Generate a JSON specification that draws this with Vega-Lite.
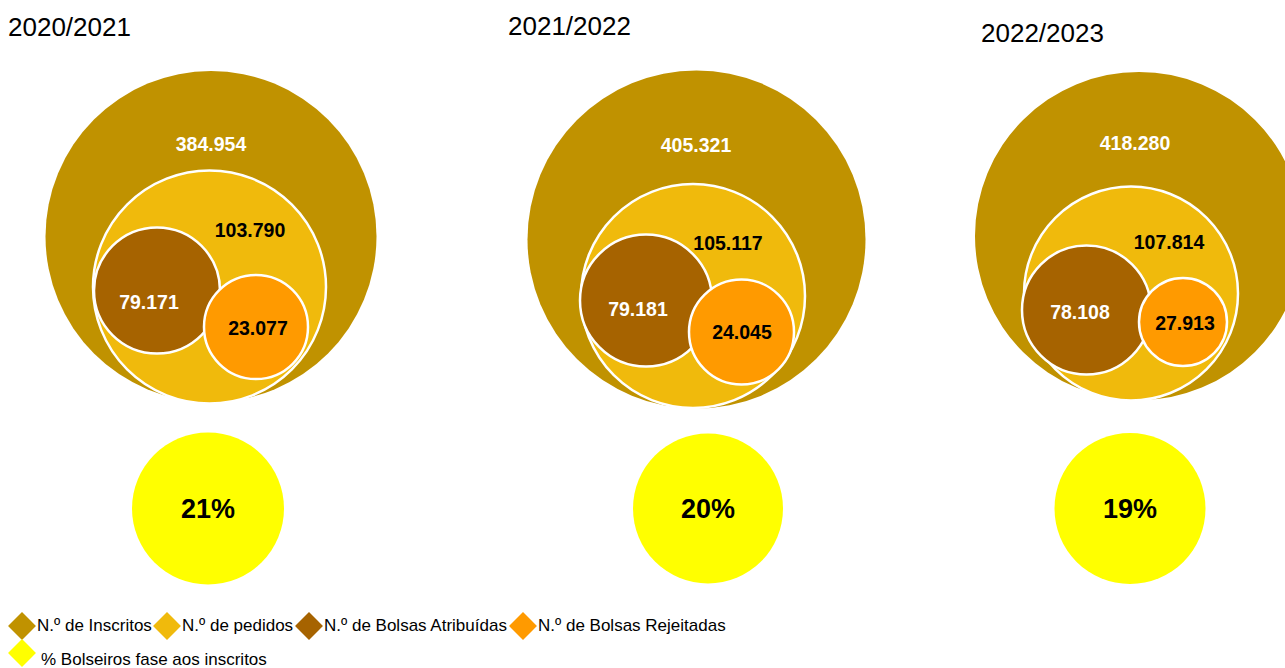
{
  "$schema": "https://vega.github.io/schema/vega-lite/v6.json",
  "width": 1285,
  "height": 668,
  "autosize": {"type": "fit", "contains": "padding"},
  "padding": 0,
  "background": "white",
  "config": {"view": {"stroke": null}},
  "data": {"values": [
    {"ano": "2020/2021", "categoria": "N.º de Inscritos", "valor": 384954, "rotulo": "384.954"},
    {"ano": "2020/2021", "categoria": "N.º de pedidos", "valor": 103790, "rotulo": "103.790"},
    {"ano": "2020/2021", "categoria": "N.º de Bolsas Atribuídas", "valor": 79171, "rotulo": "79.171"},
    {"ano": "2020/2021", "categoria": "N.º de Bolsas Rejeitadas", "valor": 23077, "rotulo": "23.077"},
    {"ano": "2020/2021", "categoria": "% Bolseiros fase aos inscritos", "valor": 0.21, "rotulo": "21%"},
    {"ano": "2021/2022", "categoria": "N.º de Inscritos", "valor": 405321, "rotulo": "405.321"},
    {"ano": "2021/2022", "categoria": "N.º de pedidos", "valor": 105117, "rotulo": "105.117"},
    {"ano": "2021/2022", "categoria": "N.º de Bolsas Atribuídas", "valor": 79181, "rotulo": "79.181"},
    {"ano": "2021/2022", "categoria": "N.º de Bolsas Rejeitadas", "valor": 24045, "rotulo": "24.045"},
    {"ano": "2021/2022", "categoria": "% Bolseiros fase aos inscritos", "valor": 0.20, "rotulo": "20%"},
    {"ano": "2022/2023", "categoria": "N.º de Inscritos", "valor": 418280, "rotulo": "418.280"},
    {"ano": "2022/2023", "categoria": "N.º de pedidos", "valor": 107814, "rotulo": "107.814"},
    {"ano": "2022/2023", "categoria": "N.º de Bolsas Atribuídas", "valor": 78108, "rotulo": "78.108"},
    {"ano": "2022/2023", "categoria": "N.º de Bolsas Rejeitadas", "valor": 27913, "rotulo": "27.913"},
    {"ano": "2022/2023", "categoria": "% Bolseiros fase aos inscritos", "valor": 0.19, "rotulo": "19%"}
  ]},
  "resolve": {"scale": {"x": "independent", "y": "independent", "size": "independent", "color": "independent"}, "legend": {"color": "independent"}},
  "layer": [
    {
      "transform": [{"filter": "datum.categoria !== '% Bolseiros fase aos inscritos'"}],
      "mark": {"type": "point", "shape": "circle", "filled": true, "opacity": 1, "stroke": "white"},
      "encoding": {
        "x": {"field": "valor", "type": "quantitative", "axis": null,
              "scale": {"zero": false, "nice": false,
                        "domain": [23077, 24045, 27913, 78108, 79171, 79181, 103790, 105117, 107814, 384954, 405321, 418280],
                        "range": [256, 741.5, 1183, 1086.5, 157, 646, 209.5, 693, 1131, 211, 696.5, 1139]}},
        "y": {"field": "valor", "type": "quantitative", "axis": null,
              "scale": {"zero": false, "nice": false,
                        "domain": [23077, 24045, 27913, 78108, 79171, 79181, 103790, 105117, 107814, 384954, 405321, 418280],
                        "range": [327, 332, 322, 310, 290.5, 300.5, 287, 296, 293.5, 236.5, 239.5, 236]}},
        "size": {"field": "valor", "type": "quantitative", "legend": null,
                 "scale": {"zero": false, "nice": false,
                           "domain": [23077, 24045, 27913, 78108, 79171, 79181, 103790, 105117, 107814, 384954, 405321, 418280],
                           "range": [10816, 11025, 7744, 16641, 15876, 17424, 54289, 50176, 45796, 109561, 114244, 107584]}},
        "color": {"field": "categoria", "type": "nominal",
                  "scale": {"domain": ["N.º de Inscritos", "N.º de pedidos", "N.º de Bolsas Atribuídas", "N.º de Bolsas Rejeitadas"],
                            "range": ["#C09200", "#F0BA0C", "#A66300", "#FF9A00"]},
                  "legend": {"orient": "none", "legendX": 8, "legendY": 612, "direction": "horizontal",
                             "title": null, "symbolType": "diamond", "symbolSize": 780, "symbolStrokeWidth": 0, "symbolOpacity": 1,
                             "labelFontSize": 17, "labelFont": "Liberation Sans", "labelColor": "#000000", "labelOffset": 1,
                             "columnPadding": 1, "padding": 0, "labelLimit": 400,
                             "encode": {"labels": {"update": {"dy": {"value": 5}}}}}},
        "strokeWidth": {"condition": {"test": "datum.categoria === 'N.º de Inscritos'", "value": 0}, "value": 2.5},
        "order": {"field": "valor", "type": "quantitative", "sort": "descending"}
      }
    },
    {
      "transform": [{"filter": "datum.categoria === '% Bolseiros fase aos inscritos'"}],
      "mark": {"type": "point", "shape": "circle", "filled": true, "opacity": 1, "strokeWidth": 0},
      "encoding": {
        "x": {"field": "valor", "type": "quantitative", "axis": null,
              "scale": {"zero": false, "nice": false, "domain": [0.19, 0.20, 0.21], "range": [1130, 708, 208]}},
        "y": {"field": "valor", "type": "quantitative", "axis": null,
              "scale": {"zero": false, "nice": false, "domain": [0.19, 0.20, 0.21], "range": [508.5, 508.5, 508.5]}},
        "size": {"field": "valor", "type": "quantitative", "legend": null,
                 "scale": {"zero": false, "nice": false, "domain": [0.19, 0.20, 0.21], "range": [22801, 22500, 23104]}},
        "color": {"field": "categoria", "type": "nominal",
                  "scale": {"domain": ["% Bolseiros fase aos inscritos"], "range": ["#FFFF00"]},
                  "legend": {"orient": "none", "legendX": 8, "legendY": 639, "direction": "horizontal",
                             "title": null, "symbolType": "diamond", "symbolSize": 780, "symbolStrokeWidth": 0, "symbolOpacity": 1,
                             "labelFontSize": 17, "labelFont": "Liberation Sans", "labelColor": "#000000", "labelOffset": 5,
                             "padding": 0, "labelLimit": 400,
                             "encode": {"labels": {"update": {"dy": {"value": 7}}}}}}
      }
    },
    {
      "mark": {"type": "text", "font": "Liberation Sans", "fontWeight": "bold", "align": "center", "baseline": "middle"},
      "encoding": {
        "x": {"field": "valor", "type": "quantitative", "axis": null,
              "scale": {"zero": false, "nice": false,
                        "domain": [0.19, 0.20, 0.21, 23077, 24045, 27913, 78108, 79171, 79181, 103790, 105117, 107814, 384954, 405321, 418280],
                        "range": [1130, 708, 208, 258, 742, 1185, 1080, 149, 638, 250, 728, 1169, 211, 696, 1135]}},
        "y": {"field": "valor", "type": "quantitative", "axis": null,
              "scale": {"zero": false, "nice": false,
                        "domain": [0.19, 0.20, 0.21, 23077, 24045, 27913, 78108, 79171, 79181, 103790, 105117, 107814, 384954, 405321, 418280],
                        "range": [510, 510, 510, 329, 333, 324, 313, 303, 310, 231, 244, 243, 145, 146, 144]}},
        "text": {"field": "rotulo", "type": "nominal"},
        "size": {"condition": {"test": "datum.categoria === '% Bolseiros fase aos inscritos'", "value": 27}, "value": 19.5},
        "color": {"condition": {"test": "datum.categoria === 'N.º de Inscritos' || datum.categoria === 'N.º de Bolsas Atribuídas'", "value": "#FFFFFF"}, "value": "#000000"}
      }
    },
    {
      "transform": [{"filter": "datum.categoria === 'N.º de Inscritos'"}],
      "mark": {"type": "text", "font": "Liberation Sans", "fontSize": 26, "align": "left", "baseline": "alphabetic", "color": "#000000"},
      "encoding": {
        "x": {"field": "valor", "type": "quantitative", "axis": null,
              "scale": {"zero": false, "nice": false, "domain": [384954, 405321, 418280], "range": [8, 508, 981]}},
        "y": {"field": "valor", "type": "quantitative", "axis": null,
              "scale": {"zero": false, "nice": false, "domain": [384954, 405321, 418280], "range": [36, 35, 42]}},
        "text": {"field": "ano", "type": "nominal"}
      }
    }
  ]
}
